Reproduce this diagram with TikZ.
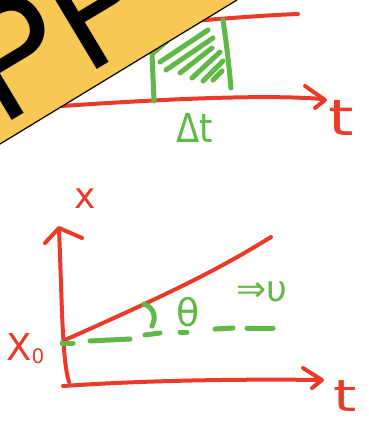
\documentclass[tikz,border=0pt]{standalone}
\usepackage{fontspec}
\setmainfont{DejaVu Sans}
\newfontfamily\herosfont{TeX Gyre Heros}
\definecolor{myred}{RGB}{234,58,42}
\definecolor{mygreen}{RGB}{96,184,70}
\definecolor{bannerfill}{RGB}{247,201,84}
\tikzset{
  redline/.style={draw=myred, line width=4pt, line cap=round, line join=round},
  greenline/.style={draw=mygreen, line width=5pt, line cap=round, line join=round},
  redtext/.style={text=myred, inner sep=0pt},
  greentext/.style={text=mygreen, inner sep=0pt},
}
\begin{document}
\begin{tikzpicture}[x=1pt,y=-1pt]
\useasboundingbox (0,0) rectangle (368,424);
% ---------- top sketch ----------
\draw[redline] (180,22) .. controls (230,18) and (270,15) .. (298,14);
\draw[redline] (62,106) .. controls (150,100) and (260,94) .. (322,99);
\draw[redline] (305,86) -- (325,100) -- (315,108);
\node[redtext, font=\fontsize{50}{50}\selectfont, xscale=1.3] (ttop) at (341,118) {t};
% green box
\draw[greenline] (168,40) -- (152,54) -- (154,101);
\draw[greenline] (223,20) .. controls (226,40) and (229,65) .. (231,88);
\draw[greenline] (160,62) -- (208,30);
\draw[greenline] (166,70) -- (213,38);
\draw[greenline] (180,73) -- (212,48);
\draw[greenline] (192,78) -- (220,52);
\draw[greenline] (203,81) -- (223,61);
\draw[greenline] (213,80) -- (222,71);
\node[greentext, font=\fontsize{40}{40}\selectfont, xscale=0.85] (dt) at (195,128) {Δt};
% ---------- bottom graph ----------
\draw[redline] (69,382) .. controls (62,360) and (62,300) .. (59,229);
\draw[redline] (45,243) -- (59,228) -- (82,238);
\draw[redline] (63,386) .. controls (150,380) and (250,379) .. (321,380);
\draw[redline] (303,368) -- (322,380) -- (312,388);
\node[redtext, font=\fontsize{36}{36}\selectfont] (xlab) at (85,199) {x};
\node[redtext, font=\fontsize{44}{44}\selectfont, xscale=1.35] (tbot) at (345,396) {t};
\node[redtext, font=\fontsize{37}{37}\selectfont, anchor=base west] (x0) at (6,360) {X\raisebox{-3pt}{\fontsize{20}{20}\selectfont 0}};
\draw[redline] (65,340) .. controls (150,302) and (210,275) .. (271,237);
% dashed level line
\draw[greenline] (62,343) -- (73,343);
\draw[greenline] (90,341) -- (130,339);
\draw[greenline] (145,335) -- (160,333);
\draw[greenline] (180,332) -- (187,332);
\draw[greenline] (215,329) -- (233,328);
\draw[greenline] (247,328) -- (273,328);
% angle mark
\draw[greenline] (144,304) .. controls (155,308) and (156,318) .. (152,326);
\node[greentext, font=\fontsize{38}{38}\selectfont] (theta) at (188,312) {θ};
\node[greentext, font=\fontsize{36}{36}\selectfont, anchor=west] (vel) at (236,292) {⇒υ};
% ---------- corner banner ----------
\fill[bannerfill] (0,0) -- (237,0) -- (0,144) -- cycle;
\begin{scope}
\clip (0,0) -- (237,0) -- (0,144) -- cycle;
\node[inner sep=0pt, anchor=base west, rotate=31, font=\herosfont\fontsize{150}{150}\selectfont] (ban) at (0,128) {PP};
\end{scope}
\draw[black, line width=1.2pt] (0,144) -- (237,0);
\end{tikzpicture}
\end{document}
